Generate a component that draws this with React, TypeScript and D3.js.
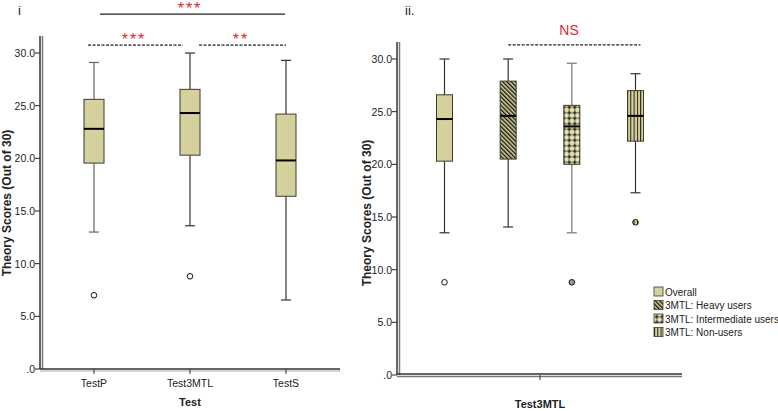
import * as d3 from 'd3';

// Panel i: test comparisons
const testCategories = ['TestP', 'Test3MTL', 'TestS'];
const testWhiskerLow = [13.0, 13.6, 6.55];
const testQ1 = [19.55, 20.3, 16.4];
const testMedian = [22.8, 24.3, 19.8];
const testQ3 = [25.6, 26.55, 24.2];
const testWhiskerHigh = [29.1, 30.0, 29.3];
const testOutliers = [[7.0], [8.8], []];

// Panel ii: Test3MTL by user group
const groupCategory = ['Test3MTL'];
const userGroups = ['Overall', '3MTL: Heavy users', '3MTL: Intermediate users', '3MTL: Non-users'];
const groupWhiskerLow = [13.5, 14.05, 13.5, 17.3];
const groupQ1 = [20.3, 20.5, 20.0, 22.2];
const groupMedian = [24.3, 24.6, 23.6, 24.6];
const groupQ3 = [26.6, 27.9, 25.6, 27.0];
const groupWhiskerHigh = [30.0, 30.0, 29.6, 28.6];
const groupOutliers = [[8.8], [], [8.8], [14.5]];

const yTicks = [0, 5, 10, 15, 20, 25, 30];

const FONT = '"Liberation Sans", Arial, sans-serif';
const KHAKI = '#d6d19c';
const BOX_STROKE = '#3b3b2c';
const RED = '#e3262b';
const patternIds = ['', 'pat-heavy', 'pat-inter', 'pat-non'];

const fmtTick = (d: number) => (d === 0 ? '.0' : d3.format('.1f')(d));

function BoxPlot({ cx, scale, low, q1, med, q3, high, outliers, boxW, fill, whiskerColor, outlierFill }: any) {
  return (
    <g>
      <line x1={cx} x2={cx} y1={scale(high)} y2={scale(q3)} stroke={whiskerColor} strokeWidth={1.2} />
      <line x1={cx} x2={cx} y1={scale(q1)} y2={scale(low)} stroke={whiskerColor} strokeWidth={1.2} />
      <line x1={cx - 5} x2={cx + 5} y1={scale(high)} y2={scale(high)} stroke={whiskerColor} strokeWidth={1.2} />
      <line x1={cx - 5} x2={cx + 5} y1={scale(low)} y2={scale(low)} stroke={whiskerColor} strokeWidth={1.2} />
      <rect x={cx - boxW / 2} y={scale(q3)} width={boxW} height={scale(q1) - scale(q3)} fill={fill} stroke={BOX_STROKE} strokeWidth={1} />
      <line x1={cx - boxW / 2} x2={cx + boxW / 2} y1={scale(med)} y2={scale(med)} stroke="#000" strokeWidth={2} />
      {outliers.map((o: number, i: number) => (
        <circle key={i} cx={cx} cy={scale(o)} r={2.8} fill={outlierFill} stroke="#111" strokeWidth={1} />
      ))}
    </g>
  );
}

function YAxis({ scale, x, top, labelRight }: any) {
  return (
    <g fontFamily={FONT} fontSize={10.5} fill="#222">
      {yTicks.map((t) => (
        <g key={t}>
          <line x1={x - 6} x2={x - 1} y1={scale(t)} y2={scale(t)} stroke="#222" strokeWidth={1} />
          <text x={labelRight} y={scale(t) + 4} textAnchor="end">{fmtTick(t)}</text>
        </g>
      ))}
      <line x1={x - 1} x2={x - 1} y1={top} y2={scale(0)} stroke="#333" strokeWidth={1.5} />
      <line x1={x + 1.5} x2={x + 1.5} y1={top} y2={scale(0)} stroke="#777" strokeWidth={1.5} />
    </g>
  );
}

export default function App() {
  // Panel i scales
  const yLeft = d3.scaleLinear().domain([0, 30]).range([369, 53]);
  const xLeft = d3.scalePoint<string>().domain(testCategories).range([94, 286]);

  // Panel ii scales
  const yRight = d3.scaleLinear().domain([0, 30]).range([375, 59]);
  const xRight = d3.scaleBand<string>().domain(groupCategory).range([398, 682]);
  const groupCenter = (xRight('Test3MTL') ?? 0) + xRight.bandwidth() / 2;
  const xInner = d3.scalePoint<string>().domain(userGroups).range([-95.5, 95.5]);

  const lx = (c: string) => xLeft(c) ?? 0;
  const rx = (g: string) => groupCenter + (xInner(g) ?? 0);

  const groupFill = (i: number) => (i === 0 ? KHAKI : `url(#${patternIds[i]})`);
  const groupOutlierFill = (i: number) => (i === 2 ? '#999' : i === 3 ? 'url(#pat-non)' : '#fff');

  return (
    <svg width={778} height={411} style={{ position: 'absolute', left: 0, top: 0, background: '#fff' }}>
      <defs>
        <pattern id="pat-heavy" patternUnits="userSpaceOnUse" width={3} height={3} patternTransform="rotate(-45)">
          <rect width={3} height={3} fill={KHAKI} />
          <line x1={0.7} y1={0} x2={0.7} y2={3} stroke="#1a1a10" strokeWidth={1.4} />
        </pattern>
        <pattern id="pat-inter" patternUnits="userSpaceOnUse" width={5.5} height={5.5}>
          <rect width={5.5} height={5.5} fill="#e4e0b4" />
          <line x1={2.75} y1={0.5} x2={2.75} y2={5} stroke="#1a1a10" strokeWidth={1.2} />
          <line x1={0.5} y1={2.75} x2={5} y2={2.75} stroke="#1a1a10" strokeWidth={1.2} />
        </pattern>
        <pattern id="pat-non" patternUnits="userSpaceOnUse" width={3.3} height={4}>
          <rect width={3.3} height={4} fill={KHAKI} />
          <line x1={0.5} y1={0} x2={0.5} y2={4} stroke="#1a1a10" strokeWidth={1} />
        </pattern>
      </defs>

      {/* ---------- Panel i ---------- */}
      <text x={18} y={15} fontFamily={FONT} fontSize={13} fill="#222">i</text>

      <text transform="translate(11,203) rotate(-90)" textAnchor="middle" fontFamily={FONT} fontSize={12} fontWeight="bold" fill="#222">
        Theory Scores (Out of 30)
      </text>

      <YAxis scale={yLeft} x={41} top={36} labelRight={35} />
      <line x1={40} x2={340} y1={yLeft(0)} y2={yLeft(0)} stroke="#333" strokeWidth={1.5} />
      <line x1={40} x2={340} y1={yLeft(0) + 2} y2={yLeft(0) + 2} stroke="#aaa" strokeWidth={1} />
      {testCategories.map((c) => (
        <g key={c} fontFamily={FONT} fontSize={10.5} fill="#222">
          <line x1={lx(c)} x2={lx(c)} y1={yLeft(0)} y2={yLeft(0) + 5} stroke="#333" />
          <text x={lx(c)} y={387} textAnchor="middle">{c}</text>
        </g>
      ))}
      <text x={190} y={406} textAnchor="middle" fontFamily={FONT} fontSize={11} fontWeight="bold" fill="#222">Test</text>

      {testCategories.map((c, i) => (
        <BoxPlot
          key={c}
          cx={lx(c)}
          scale={yLeft}
          low={testWhiskerLow[i]}
          q1={testQ1[i]}
          med={testMedian[i]}
          q3={testQ3[i]}
          high={testWhiskerHigh[i]}
          outliers={testOutliers[i]}
          boxW={20}
          fill={KHAKI}
          outlierFill="#fff"
          whiskerColor={i === 0 ? '#666' : '#333'}
        />
      ))}

      {/* significance brackets */}
      <line x1={lx('TestP') + 6} x2={lx('TestS') - 1} y1={yLeft(33.7)} y2={yLeft(33.7)} stroke="#222" strokeWidth={1.3} />
      <text x={190} y={13.5} textAnchor="middle" fontFamily={FONT} fontSize={16} letterSpacing={2} fill={RED}>***</text>
      <line x1={lx('TestP') - 6} x2={lx('Test3MTL') - 7} y1={yLeft(30.75)} y2={yLeft(30.75)} stroke="#222" strokeWidth={1.2} strokeDasharray="3,1.5" />
      <text x={134} y={45} textAnchor="middle" fontFamily={FONT} fontSize={16} letterSpacing={2} fill={RED}>***</text>
      <line x1={lx('Test3MTL') + 9} x2={lx('TestS')} y1={yLeft(30.75)} y2={yLeft(30.75)} stroke="#222" strokeWidth={1.2} strokeDasharray="3,1.5" />
      <text x={241} y={45} textAnchor="middle" fontFamily={FONT} fontSize={16} letterSpacing={2} fill={RED}>**</text>

      {/* ---------- Panel ii ---------- */}
      <text x={405} y={15} fontFamily={FONT} fontSize={13} fill="#222">ii.</text>

      <text transform="translate(371,213) rotate(-90)" textAnchor="middle" fontFamily={FONT} fontSize={12} fontWeight="bold" fill="#222">
        Theory Scores (Out of 30)
      </text>

      <YAxis scale={yRight} x={398} top={42} labelRight={392} />
      <line x1={397} x2={682} y1={yRight(0) - 1} y2={yRight(0) - 1} stroke="#333" strokeWidth={1.3} />
      <line x1={397} x2={682} y1={yRight(0) + 1.5} y2={yRight(0) + 1.5} stroke="#777" strokeWidth={1.3} />
      <line x1={groupCenter} x2={groupCenter} y1={yRight(0)} y2={yRight(0) + 5} stroke="#333" />
      <text x={groupCenter} y={408} textAnchor="middle" fontFamily={FONT} fontSize={11} fontWeight="bold" fill="#222">Test3MTL</text>

      {userGroups.map((g, i) => (
        <BoxPlot
          key={g}
          cx={rx(g)}
          scale={yRight}
          low={groupWhiskerLow[i]}
          q1={groupQ1[i]}
          med={groupMedian[i]}
          q3={groupQ3[i]}
          high={groupWhiskerHigh[i]}
          outliers={groupOutliers[i]}
          boxW={16}
          fill={groupFill(i)}
          outlierFill={groupOutlierFill(i)}
          whiskerColor={i === 2 ? '#777' : '#333'}
        />
      ))}

      <line x1={rx(userGroups[1])} x2={rx(userGroups[3]) + 5} y1={yRight(31.34)} y2={yRight(31.34)} stroke="#222" strokeWidth={1.2} strokeDasharray="3,1.5" />
      <text x={569} y={35} textAnchor="middle" fontFamily={FONT} fontSize={14} fill={RED}>NS</text>

      {/* legend */}
      <g fontFamily={FONT} fontSize={10} fill="#222">
        {userGroups.map((g, i) => (
          <g key={g} transform={`translate(654,${287 + i * 13.5})`}>
            <rect x={0} y={0} width={9} height={9} fill={groupFill(i)} stroke={BOX_STROKE} strokeWidth={0.8} />
            <text x={11} y={8.5}>{g}</text>
          </g>
        ))}
      </g>
    </svg>
  );
}
